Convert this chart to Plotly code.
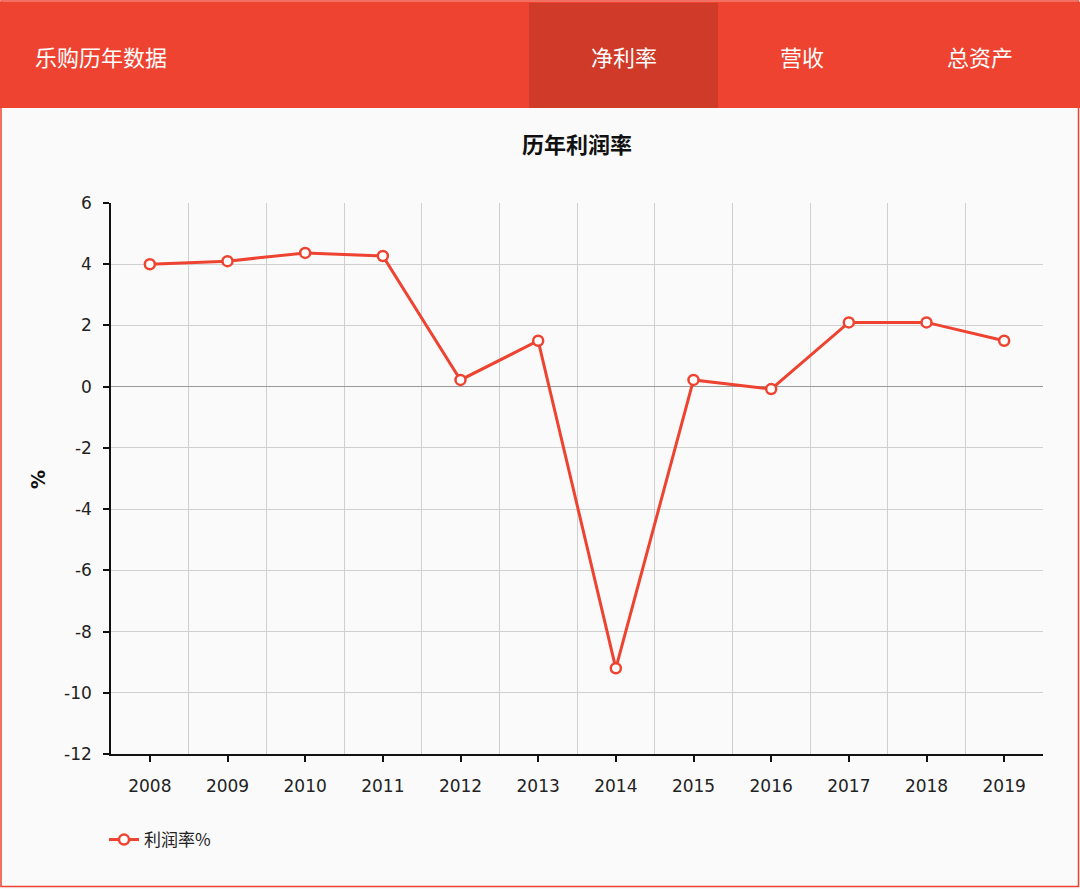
import plotly.graph_objects as go

years = ["2008", "2009", "2010", "2011", "2012", "2013", "2014", "2015", "2016", "2017", "2018", "2019"]
margin_pct = [4.0, 4.1, 4.37, 4.27, 0.22, 1.5, -9.2, 0.22, -0.08, 2.1, 2.1, 1.5]
y_ticks = [6, 4, 2, 0, -2, -4, -6, -8, -10, -12]

W, H = 1080, 889
L, R, T, B = 111, 1043, 203, 754
PW, PH = R - L, B - T

def px(x):
    return (x - L) / PW

def py(y):
    return (B - y) / PH

RED = "#EE4330"
DARK = "#D03A28"
FONT = "DejaVu Sans, Noto Sans CJK SC, sans-serif"
CJK = "Noto Sans CJK SC, DejaVu Sans, sans-serif"

xs = list(range(len(years)))

fig = go.Figure()
fig.add_trace(go.Scatter(
    x=xs, y=margin_pct, mode="lines+markers", name="利润率%",
    line=dict(color=RED, width=3),
    marker=dict(symbol="circle", size=10, color="white", line=dict(color=RED, width=2.5)),
))

shapes = [
    dict(type="rect", xref="paper", yref="paper", x0=px(1), x1=px(1078.5), y0=py(886.5), y1=py(1),
         line=dict(color=RED, width=1.5), fillcolor="rgba(0,0,0,0)", layer="below"),
    dict(type="rect", xref="paper", yref="paper", x0=px(0), x1=px(1080), y0=py(108), y1=py(2),
         line=dict(width=0), fillcolor=RED, layer="above"),
    dict(type="rect", xref="paper", yref="paper", x0=px(529), x1=px(718), y0=py(108), y1=py(3),
         line=dict(width=0), fillcolor=DARK, layer="above"),
]

annotations = [
    dict(text="乐购历年数据", xref="paper", yref="paper", x=px(33), y=py(56), xanchor="left", yanchor="middle",
         showarrow=False, font=dict(family=CJK, size=22, color="white")),
    dict(text="净利率", xref="paper", yref="paper", x=px(624), y=py(56), xanchor="center", yanchor="middle",
         showarrow=False, font=dict(family=CJK, size=22, color="white")),
    dict(text="营收", xref="paper", yref="paper", x=px(802), y=py(56), xanchor="center", yanchor="middle",
         showarrow=False, font=dict(family=CJK, size=22, color="white")),
    dict(text="总资产", xref="paper", yref="paper", x=px(980), y=py(56), xanchor="center", yanchor="middle",
         showarrow=False, font=dict(family=CJK, size=22, color="white")),
    dict(text="<b>历年利润率</b>", xref="paper", yref="paper", x=px(577), y=py(143), xanchor="center", yanchor="middle",
         showarrow=False, font=dict(family=CJK, size=22, color="#111")),
    dict(text="<b>%</b>", xref="paper", yref="paper", x=px(38), y=py(480), xanchor="center", yanchor="middle",
         textangle=-90, showarrow=False, font=dict(family=FONT, size=19, color="#111")),
]

fig.update_layout(
    width=W, height=H,
    margin=dict(l=L, r=W - R, t=T, b=H - B, pad=0),
    paper_bgcolor="#FAFAFA", plot_bgcolor="#FAFAFA",
    font=dict(family=FONT, size=16, color="#222"),
    showlegend=True,
    legend=dict(orientation="h", x=px(104), y=py(840), xanchor="left", yanchor="middle",
                font=dict(family=CJK, size=17, color="#222"), bgcolor="rgba(0,0,0,0)",
                itemwidth=30),
    shapes=shapes, annotations=annotations,
    xaxis=dict(
        range=[-0.5, len(years) - 0.5], tickmode="array", tickvals=xs, ticktext=years,
        showgrid=False, zeroline=False,
        showline=True, linecolor="#111", linewidth=1.5,
        ticks="outside", ticklen=6, tickcolor="#111", tickwidth=1.5,
        ticklabelstandoff=10,
        tickfont=dict(family=FONT, size=17, color="#222"),
        minor=dict(tickvals=[i + 0.5 for i in xs], showgrid=True, gridcolor="#CFCFCF", gridwidth=1, ticks=""),
    ),
    yaxis=dict(
        range=[-12, 6], tickmode="array", tickvals=y_ticks, ticktext=[str(v) for v in y_ticks],
        showgrid=True, gridcolor="#D0D0D0", gridwidth=1,
        zeroline=True, zerolinecolor="#999", zerolinewidth=1.2,
        showline=True, linecolor="#111", linewidth=1.5,
        ticks="outside", ticklen=6, tickcolor="#111", tickwidth=1.5,
        ticklabelstandoff=8,
        tickfont=dict(family=FONT, size=17, color="#222"),
    ),
)

fig.write_html("out.html", config={"displayModeBar": False},
               post_script="document.body.style.margin='0';document.body.style.background='#FAFAFA';")
